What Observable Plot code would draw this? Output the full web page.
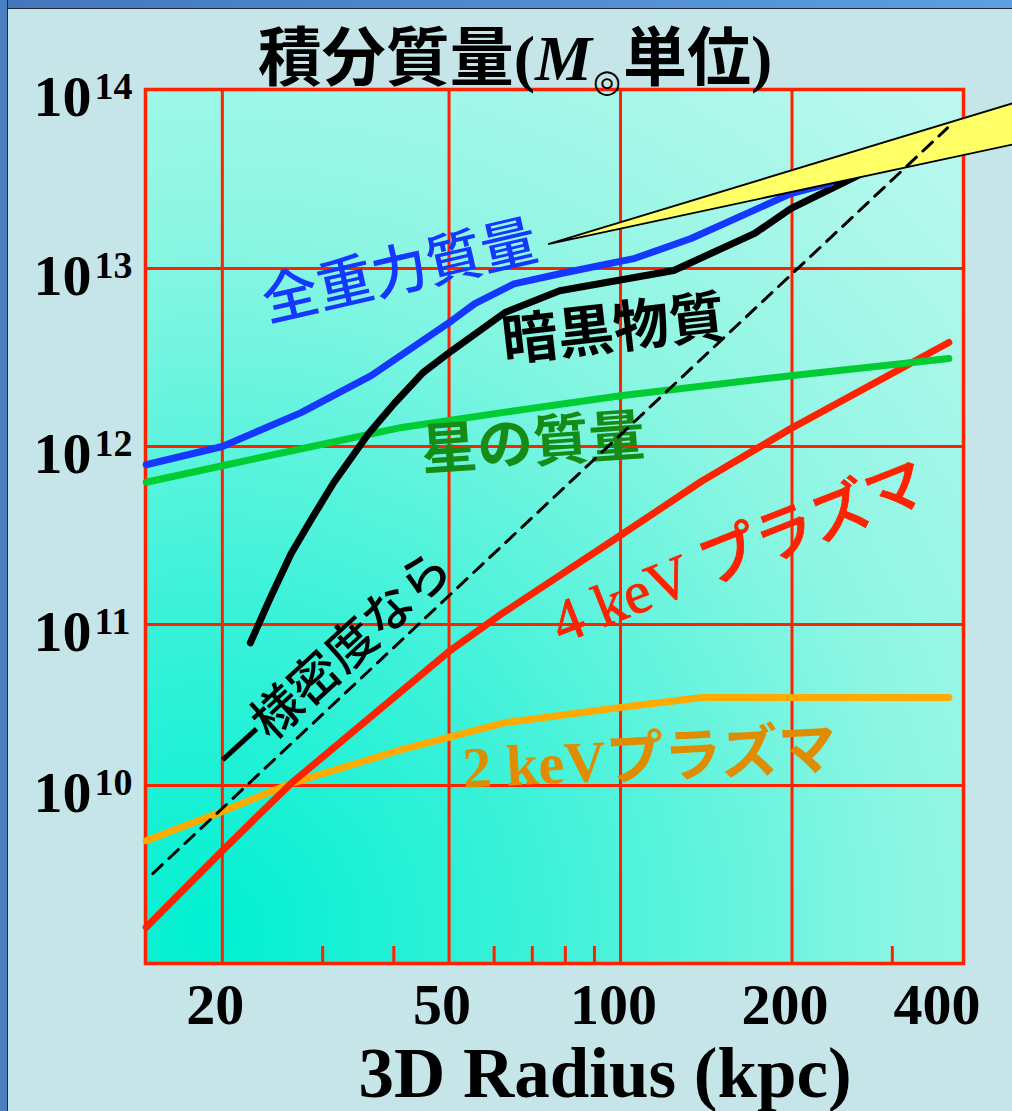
<!DOCTYPE html>
<html>
<head>
<meta charset="utf-8">
<script src="https://cdn.jsdelivr.net/npm/d3@7"></script>
<script src="https://cdn.jsdelivr.net/npm/@observablehq/plot@0.6"></script>
<style>
  html, body { margin: 0; padding: 0; }
  body { width: 1012px; height: 1111px; overflow: hidden; background: #c5e5e8; position: relative; }
  #topbar { position: absolute; left: 0; top: 0; width: 1012px; height: 8px;
            background: linear-gradient(90deg, #4476ba, #5c9fe3); border-bottom: 1.5px solid #1f2b38; }
  #leftbar { position: absolute; left: 0; top: 0; width: 7px; height: 1111px;
             background: #4a80c2; border-right: 1.5px solid #1f2b38; }
  #chart { position: absolute; left: 0; top: 0; }
  #title { position: absolute; left: 0; top: 20px; width: 1030px; text-align: center;
           font-size: 64px; line-height: 64px; white-space: nowrap; color: #000; }
  #title .cjk { font-family: 'Noto Sans CJK JP', sans-serif; font-weight: bold; }
  #title .ser { font-family: 'Liberation Serif', serif; font-weight: bold; }
  #title .sun { font-family: 'DejaVu Sans', 'Noto Sans CJK JP', sans-serif; font-size: 32px;
                vertical-align: -12px; margin-left: 1px; margin-right: 2px; font-weight: normal; }
  #xlabel { position: absolute; left: 0; top: 1038px; width: 1210px; text-align: center;
            font-family: 'Liberation Serif', serif; font-weight: bold; font-size: 71px;
            line-height: 71px; white-space: nowrap; color: #000; }
</style>
</head>
<body>
<div id="chart"></div>
<div id="topbar"></div>
<div id="leftbar"></div>
<div id="title"><span class="cjk">積分質量</span><span class="ser">(<i>M</i></span><span class="sun">◎</span><span class="cjk">単位</span><span class="ser">)</span></div>
<div id="xlabel">3D Radius (kpc)</div>
<script>
// ---------- data (radius in kpc, cumulative mass in solar masses) ----------
const xTicks = [20, 50, 100, 200, 400];
const xMinorTicks = [30, 40, 60, 70, 80, 90, 300];
const yTickExponents = [10, 11, 12, 13, 14];

// 全重力質量 (total gravitating mass)
const totalRadius = [14.7, 20, 27.5, 36.5, 50.6, 55.5, 65, 79, 106, 133, 174, 199, 234];
const totalMass   = [7.9e11, 1.0e12, 1.55e12, 2.5e12, 5.1e12, 6.35e12, 8.2e12, 9.4e12, 1.14e13, 1.47e13, 2.16e13, 2.62e13, 3.0e13];

// 暗黒物質 (dark matter)
const darkRadius = [22.4, 24.3, 26.4, 28.8, 31.4, 36.1, 40.1, 45, 50.6, 62.7, 78.2, 124, 172, 199, 261];
const darkMass   = [7.7e10, 1.42e11, 2.5e11, 4.0e11, 6.3e11, 1.18e12, 1.75e12, 2.6e12, 3.46e12, 5.66e12, 7.5e12, 9.75e12, 1.57e13, 2.16e13, 3.3e13];

// 星の質量 (stellar mass)
const starRadius = [14.7, 20, 41.3, 61.9, 100, 199, 377];
const starMass   = [6.3e11, 7.8e11, 1.28e12, 1.55e12, 1.93e12, 2.5e12, 3.12e12];

// 4 keV プラズマ
const hotRadius = [14.7, 20, 26.4, 50, 61.9, 99, 139, 199, 377];
const hotMass   = [1.6e9, 4.3e9, 1.03e10, 6.8e10, 1.15e11, 3.1e11, 6.4e11, 1.26e12, 3.84e12];

// 2 keV プラズマ
const coolRadius = [14.7, 20, 26.4, 40.8, 62.7, 100, 139, 377];
const coolMass   = [4.9e9, 7.15e9, 1.03e10, 1.65e10, 2.46e10, 3.05e10, 3.52e10, 3.52e10];

// 一様密度なら (uniform density)
const uniformRadius = [15.1, 375];
const uniformMass   = [3.2e9, 6.1e13];

// yellow pointer wedge
const wedgeRadius = [74.8, 500];
const wedgeUpper  = [1.36e13, 8.5e13];
const wedgeLower  = [1.36e13, 4.97e13];

const labelTotal = "全重力質量";
const labelDark = "暗黒物質";
const labelStar = "星の質量";
const labelUniform = "一様密度なら";
const labelHot = "4 keV プラズマ";
const labelCool = "2 keVプラズマ";

// ---------- drawing ----------
const red = "#ff2200";
const serif = "'Liberation Serif', 'DejaVu Serif', serif";
const cjk = "'Noto Sans CJK JP', sans-serif";
const mixed = "'Liberation Serif', 'Noto Sans CJK JP', serif";

const pts = (xs, ys) => xs.map((x, i) => ({r: x, m: ys[i]}));
const series = (xs, ys, opts) => Plot.line(pts(xs, ys), {x: "r", y: "m", strokeLinejoin: "round", strokeWidth: 7, ...opts});
const label = (x, y, text, opts) => Plot.text([text], {x: [x], y: [y], text: d => d, textAnchor: "middle", lineAnchor: "middle", ...opts});

const chart = Plot.plot({
  width: 1012,
  height: 1111,
  marginLeft: 145,
  marginRight: 49,
  marginTop: 89,
  marginBottom: 148,
  style: {background: "transparent"},
  x: {type: "log", domain: [14.66, 400], axis: null},
  y: {type: "log", domain: [1e9, 1e10, 1e11, 1e12, 1e13, 1e14], range: [963, 785, 624, 446, 268, 89], axis: null},
  marks: [
    Plot.frame({fill: "url(#bgGrad)", stroke: "none"}),
    Plot.ruleX(xTicks.filter(d => d < 400), {stroke: red, strokeWidth: 3}),
    Plot.ruleY(yTickExponents.filter(e => e < 14).map(e => 10 ** e), {stroke: red, strokeWidth: 3}),
    Plot.axisX({ticks: xMinorTicks, anchor: "bottom", tickSize: -17, tickFormat: () => "", label: null, stroke: red, strokeWidth: 3}),
    Plot.frame({stroke: red, strokeWidth: 3.5}),

    // tick labels
    Plot.text(xTicks.filter(d => d < 400), {x: d => d, frameAnchor: "bottom", text: d => String(d), dx: -7, dy: 42,
      lineAnchor: "middle", fontSize: 58, fontFamily: serif, fontWeight: "bold", fill: "black"}),
    Plot.text(xTicks.filter(d => d >= 400), {x: d => d, frameAnchor: "bottom", text: d => String(d), dx: 17, dy: 42,
      textAnchor: "end", lineAnchor: "middle", fontSize: 58, fontFamily: serif, fontWeight: "bold", fill: "black"}),
    Plot.text(yTickExponents, {y: d => 10 ** d, frameAnchor: "left", text: () => "10", dx: -112, dy: 8,
      textAnchor: "start", lineAnchor: "middle", fontSize: 58, fontFamily: serif, fontWeight: "bold", fill: "black"}),
    Plot.text(yTickExponents, {y: d => 10 ** d, frameAnchor: "left", text: d => String(d), dx: -51, dy: -3,
      textAnchor: "start", lineAnchor: "middle", fontSize: 38, fontFamily: serif, fontWeight: "bold", fill: "black"}),

    // series
    series(coolRadius, coolMass, {stroke: "#ffaa00"}),
    series(hotRadius, hotMass, {stroke: red}),
    series(starRadius, starMass, {stroke: "#00cc33"}),
    series(darkRadius, darkMass, {stroke: "black"}),
    series(totalRadius, totalMass, {stroke: "#1538ff"}),

    // labels
    label(41, 9.5e12, labelTotal, {rotate: -13, fill: "#1538ff", fontSize: 56, fontFamily: cjk, fontWeight: 500}),
    label(97.2, 4.49e12, labelDark, {rotate: -6.5, fill: "black", fontSize: 56, fontFamily: cjk, fontWeight: "bold"}),
    label(70.2, 1.03e12, labelStar, {rotate: -4, fill: "#168c16", fontSize: 56, fontFamily: cjk, fontWeight: "bold"}),
    label(31.4, 5.8e10, labelUniform, {rotate: -42.5, fill: "black", fontSize: 50, fontFamily: cjk, fontWeight: 500}),
    label(161.5, 2.51e11, labelHot, {rotate: -21.5, fill: red, fontSize: 60, fontFamily: mixed, fontWeight: 500, stroke: red, strokeWidth: 0.8}),
    label(112.4, 1.45e10, labelCool, {rotate: -3, fill: "#e08c00", fontSize: 58, fontFamily: mixed, fontWeight: "bold"}),

    // wedge pointer and uniform-density reference line
    Plot.areaY(wedgeRadius.map((r, i) => ({r, lo: wedgeLower[i], hi: wedgeUpper[i]})),
      {x: "r", y1: "lo", y2: "hi", fill: "#ffff66", stroke: "black", strokeWidth: 1.8, strokeLinejoin: "miter"}),
    series(uniformRadius, uniformMass, {stroke: "black", strokeWidth: 3, strokeDasharray: "13,9"})
  ]
});

// background gradient
const defs = d3.create("svg:defs");
const g = defs.append("radialGradient").attr("id", "bgGrad").attr("gradientUnits", "userSpaceOnUse")
  .attr("cx", 210).attr("cy", 930).attr("r", 1150);
[[0, "#00f0d2"], [0.3, "#3ff2d9"], [0.62, "#8ef6e3"], [1, "#c2f8f0"]]
  .forEach(([o, c]) => g.append("stop").attr("offset", o).attr("stop-color", c));
chart.insertBefore(defs.node(), chart.firstChild);

document.getElementById("chart").appendChild(chart);
</script>
</body>
</html>
